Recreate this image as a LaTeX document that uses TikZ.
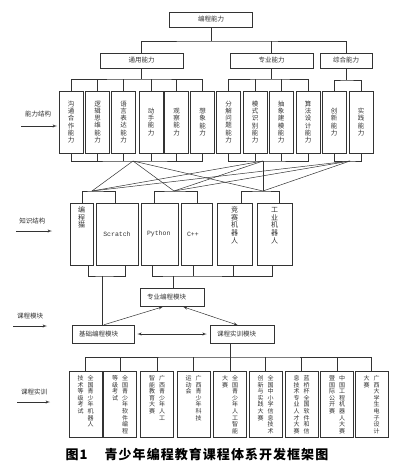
\documentclass[tikz,border=0pt]{standalone}
\usepackage{fontspec}
\setmainfont{Noto Sans CJK SC}
\setmonofont{Liberation Mono}
\newfontfamily\capfont[LetterSpace=8]{Noto Sans CJK SC}
\usetikzlibrary{arrows,positioning,calc}

% characters stacked top to bottom
\def\vcolnext#1{\ifx\relax#1\else\hbox to 1em{\hss#1\hss}\expandafter\vcolnext\fi}
\newcommand\vcol[1]{\vtop{\baselineskip=1.1em\lineskiplimit=-10pt\vcolnext#1\relax}}

\begin{document}
\begin{tikzpicture}[x=1pt, y=-1pt, >=latex', line width=0.5pt, color=black!80,
    topbox/.style={draw, minimum width=83, minimum height=15, inner sep=0pt, font=\fontsize{6.5}{7}\selectfont},
    abox/.style={draw, minimum width=24, minimum height=62, inner sep=0pt, font=\fontsize{6.5}{7}\selectfont},
    kbox/.style={draw, minimum height=62, inner sep=2pt, font=\fontsize{7}{8}\selectfont},
    ktop/.style={kbox, text height=7.5pt, text depth=50.5pt},
    kcode/.style={kbox, inner xsep=6pt, align=left, font=\ttfamily\fontsize{6.5}{7}\selectfont},
    mbox/.style={draw, minimum height=18, inner xsep=7pt, text width=50pt, align=left, font=\fontsize{6.5}{7}\selectfont},
    tbox/.style={draw, minimum width=33, inner sep=2pt, text height=7pt, text depth=55pt, font=\fontsize{6}{7}\selectfont},
    lab/.style={font=\fontsize{6.5}{7}\selectfont}]
    \useasboundingbox (0,0) rectangle (400,469);
    % Level 1: ability
    \node[topbox] (bcnl) at (211,19.5) {编程能力};
    \node[topbox] (tyl) at (141.5,60.5) {通用能力};
    \node[topbox] (zyl) at (271.5,60.5) {专业能力};
    \node[topbox, minimum width=52] (zhl) at (346,60.5) {综合能力};
    \node[abox] (ab1) at (71,122) {\vcol{沟通合作能力}};
    \node[abox] (ab2) at (97.5,122) {\vcol{逻辑思维能力}};
    \node[abox] (ab3) at (123.5,122) {\vcol{语言表达能力}};
    \node[abox] (ab4) at (151,122) {\vcol{动手能力}};
    \node[abox] (ab5) at (176.5,122) {\vcol{观察能力}};
    \node[abox] (ab6) at (202.5,122) {\vcol{想象能力}};
    \node[abox] (ab7) at (228.5,122) {\vcol{分解问题能力}};
    \node[abox] (ab8) at (255,122) {\vcol{模式识别能力}};
    \node[abox] (ab9) at (281,122) {\vcol{抽象建模能力}};
    \node[abox] (ab10) at (308,122) {\vcol{算法设计能力}};
    \node[abox] (ab11) at (334,122) {\vcol{创新能力}};
    \node[abox] (ab12) at (361,122) {\vcol{实践能力}};
    % Level 2: knowledge
    \node[ktop, minimum width=23] (bcm) at (81.5,234) {\vcol{编程猫}};
    \node[kbox, minimum width=42, font=\ttfamily\fontsize{6.5}{7}\selectfont] (scr) at (117,234) {Scratch};
    \node[kcode, text width=25pt] (py) at (159.5,234) {Python};
    \node[kcode, text width=19pt] (cpp) at (196.5,234) {C++};
    \node[ktop, minimum width=35] (jsr) at (234.5,234) {\vcol{竞赛机器人}};
    \node[ktop, minimum width=35] (gyr) at (274.5,234) {\vcol{工业机器人}};
    % Level 3: modules
    \node[mbox] (zybk) at (172,297.5) {专业编程模块};
    \node[mbox, text width=48pt] (jcbk) at (103,334) {基础编程模块};
    \node[mbox] (sxbk) at (242,334.5) {课程实训模块};
    % Level 4: training
    \node[tbox] (px1) at (85.5,404.5) {\vcol{技术等级考试}\hspace{4pt}\vcol{全国青少年机器人}};
    \node[tbox] (px2) at (120,404.5) {\vcol{等级考试}\hspace{4pt}\vcol{全国青少年软件编程}};
    \node[tbox] (px3) at (157,404.5) {\vcol{智能教育大赛}\hspace{4pt}\vcol{广西青少年人工}};
    \node[tbox] (px4) at (193.5,404.5) {\vcol{运动会}\hspace{4pt}\vcol{广西青少年科技}};
    \node[tbox] (px5) at (230,404.5) {\vcol{大赛}\hspace{4pt}\vcol{全国青少年人工智能}};
    \node[tbox] (px6) at (265.5,404.5) {\vcol{创新与实践大赛}\hspace{4pt}\vcol{全国中小学信息技术}};
    \node[tbox] (px7) at (301.5,404.5) {\vcol{息技术专业人才大赛}\hspace{4pt}\vcol{蓝桥杯全国软件和信}};
    \node[tbox] (px8) at (337,404.5) {\vcol{暨国际公开赛}\hspace{4pt}\vcol{中国工程机器人大赛}};
    \node[tbox] (px9) at (371.5,404.5) {\vcol{大赛}\hspace{4pt}\vcol{广西大学生电子设计}};
    % side labels
    \node[lab] (lb1) at (38,114) {能力结构};
    \node[lab] (lb2) at (32.5,221) {知识结构};
    \node[lab] (lb3) at (30,316) {课程模块};
    \node[lab] (lb4) at (34,392) {课程实训};
    \coordinate (ar1) at (57,126);
    \coordinate (ar2) at (52,231);
    \coordinate (ar3) at (47,326);
    \coordinate (ar4) at (50,402);
    \draw[->] (lb1.west |- ar1) -- (ar1);
    \draw[->] (lb2.west |- ar2) -- (ar2);
    \draw[->] (lb3.west |- ar3) -- (ar3);
    \draw[->] (lb4.west |- ar4) -- (ar4);
    % tree lines
    \coordinate (t0) at (211,41);
    \draw (bcnl) -- (t0);
    \draw (tyl.north) |- (t0) -| (zhl.north);
    \draw (zyl) -- (zyl |- t0);
    \coordinate (u1) at (141.5,79);
    \coordinate (u2) at (271.5,79);
    \coordinate (u3) at (346,80);
    \draw (tyl) -- (u1);
    \draw (zyl) -- (u2);
    \draw (zhl) -- (u3);
    \draw (ab1.north) |- (u1) -| (ab6.north);
    \draw (ab7.north) |- (u2) -| (ab10.north);
    \draw (ab11.north) |- (u3) -| (ab12.north);
    \foreach \n in {2,...,5,8,9} \draw (ab\n.north) -- (ab\n.north |- u1);
    \coordinate (h1) at (133,161);
    \coordinate (h2) at (263,161);
    \coordinate (h3) at (350,161);
    \draw (ab1.south) |- (h1) -| (ab6.south);
    \draw (ab7.south) |- (h2) -| (ab10.south);
    \draw (ab11.south) |- (h3) -| (ab12.south);
    \foreach \n in {2,...,5,8,9} \draw (ab\n.south) -- (ab\n.south |- h1);
    % ability to knowledge
    \coordinate (g1) at (92,191);
    \coordinate (g2) at (174,191);
    \coordinate (g3) at (263,191);
    \foreach \a in {h1,h2,h3}
        \foreach \b in {g1,g2,g3}
            \draw (\a) -- (\b);
    \draw ([xshift=0.5]bcm.north) |- (g1) -| ([xshift=-2]scr.north);
    \draw ([xshift=-5.5]py.north) |- (g2) -| ([xshift=0.5]cpp.north);
    \draw ([xshift=6.5]jsr.north) |- (g3) -| ([xshift=4.5]gyr.north);
    % knowledge to modules
    \coordinate (kb1) at (102,276);
    \coordinate (kb2) at (173,276);
    \draw ([xshift=6.5]bcm.south) |- (kb1) -| ([xshift=8]scr.south);
    \draw ([xshift=-7.5]py.south) |- (kb2) -| ([xshift=-2.5]gyr.south);
    \draw ([xshift=-3.5]cpp.south) -- +(0,11);
    \draw ([xshift=-1.5]jsr.south) -- +(0,11);
    \draw (kb1) -- (kb1 |- jcbk.north);
    \draw (kb2) -- (kb2 |- zybk.north);
    \draw[->] ([xshift=1]jcbk.north) -- ([xshift=-9]zybk.south);
    \draw[<->] ([xshift=11]zybk.south) -- ([xshift=-4]sxbk.north);
    \draw[<->, shorten <=3pt, shorten >=3pt] (jcbk.east) -- (jcbk.east -| sxbk.west);
    % modules to training
    \coordinate (tb) at (230,357);
    \draw (sxbk.south -| px5.north) -- (px5.north);
    \draw (px1.north) |- (tb) -| (px9.north);
    \foreach \n in {2,3,4,6,7,8} \draw (px\n.north) -- (px\n.north |- tb);
    % caption
    \node[font=\capfont\bfseries\fontsize{13}{15}\selectfont, color=black] (cap) at (197,454) {图1\hspace{17pt}青少年编程教育课程体系开发框架图};
\end{tikzpicture}
\end{document}
